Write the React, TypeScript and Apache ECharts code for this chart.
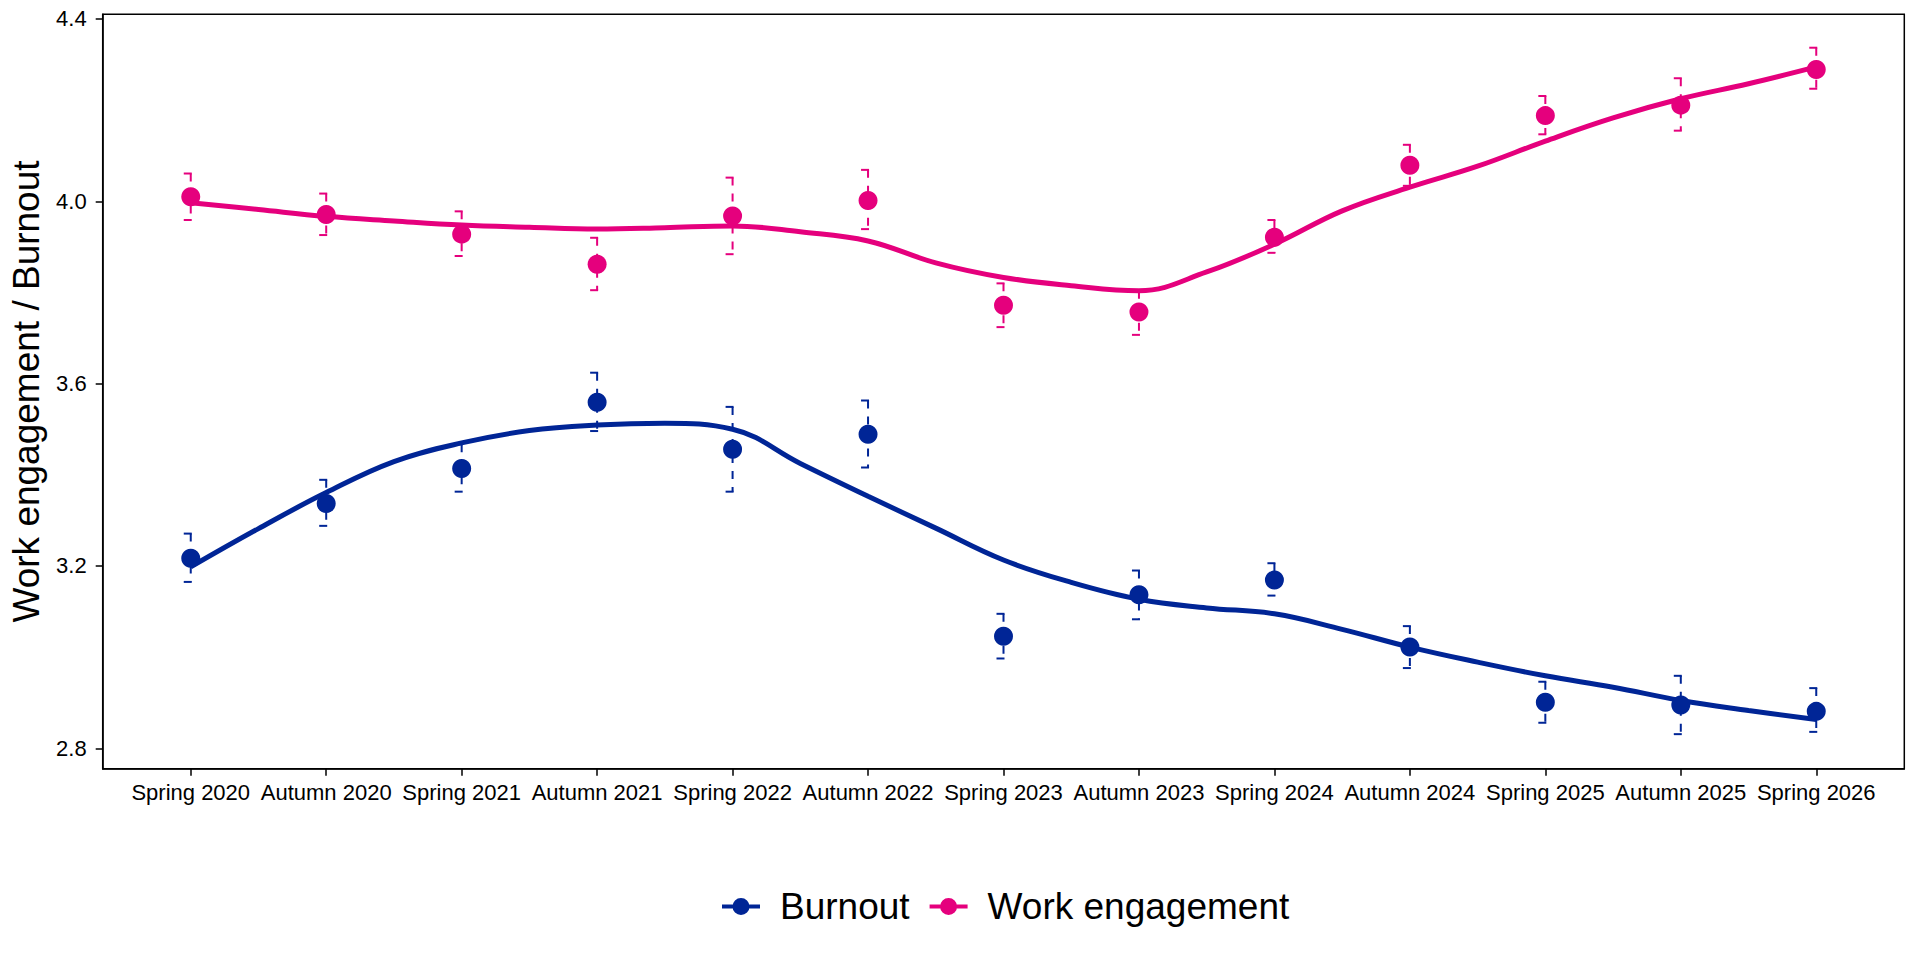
import React, { useEffect, useRef } from "react";
import * as echarts from "echarts";

const categories = [
  "Spring 2020", "Autumn 2020", "Spring 2021", "Autumn 2021", "Spring 2022",
  "Autumn 2022", "Spring 2023", "Autumn 2023", "Spring 2024", "Autumn 2024",
  "Spring 2025", "Autumn 2025", "Spring 2026",
];

const burnoutMean = [3.217, 3.337, 3.414, 3.559, 3.456, 3.489, 3.046, 3.137, 3.169, 3.022, 2.901, 2.895, 2.881];
const burnoutLow = [3.165, 3.288, 3.363, 3.496, 3.363, 3.416, 2.997, 3.083, 3.135, 2.976, 2.856, 2.831, 2.836];
const burnoutHigh = [3.271, 3.389, 3.467, 3.624, 3.549, 3.563, 3.095, 3.19, 3.206, 3.068, 2.946, 2.959, 2.932];

const engagementMean = [4.01, 3.971, 3.928, 3.862, 3.968, 4.002, 3.772, 3.757, 3.921, 4.079, 4.188, 4.211, 4.289];
const engagementLow = [3.959, 3.926, 3.88, 3.805, 3.884, 3.939, 3.724, 3.707, 3.887, 4.034, 4.147, 4.155, 4.247];
const engagementHigh = [4.061, 4.017, 3.978, 3.92, 4.052, 4.069, 3.82, 3.804, 3.959, 4.124, 4.231, 4.27, 4.337];

// smoothed (loess) curves at whole and half category positions
const fitPositions = [0, 0.5, 1, 1.5, 2, 2.5, 3, 3.5, 4, 4.5, 5, 5.5, 6, 6.5, 7, 7.5, 8, 8.5, 9, 9.5, 10, 10.5, 11, 11.5, 12];
const burnoutFit = [3.198, 3.282, 3.361, 3.429, 3.47, 3.497, 3.509, 3.513, 3.5, 3.425, 3.353, 3.283, 3.213, 3.164, 3.127, 3.108, 3.095, 3.061, 3.022, 2.989, 2.959, 2.934, 2.905, 2.883, 2.863];
const engagementFit = [3.997, 3.982, 3.967, 3.957, 3.948, 3.943, 3.939, 3.942, 3.946, 3.933, 3.913, 3.865, 3.833, 3.815, 3.804, 3.845, 3.906, 3.979, 4.031, 4.077, 4.132, 4.183, 4.225, 4.258, 4.295];

const yTicks = [2.8, 3.2, 3.6, 4.0, 4.4];
const xTicks = [0, 1, 2, 3, 4, 5, 6, 7, 8, 9, 10, 11, 12];

const BLUE = "#002596";
const PINK = "#E5007D";
const FONT = "'Liberation Sans', Arial, sans-serif";

const legendIcon =
  "path://M0,7H38V11H0Z M10.5,9A8.5,8.5 0 1,1 27.5,9A8.5,8.5 0 1,1 10.5,9Z";

function errorRenderer(color: string) {
  return (params: any, api: any) => {
    const x = api.value(0);
    const lo = api.coord([x, api.value(1)]);
    const hi = api.coord([x, api.value(2)]);
    const style = { stroke: color, lineWidth: 2, fill: null };
    return {
      type: "group",
      children: [
        { type: "line", shape: { x1: hi[0] - 7, y1: hi[1], x2: hi[0] + 1, y2: hi[1] }, style },
        { type: "line", shape: { x1: lo[0] - 7, y1: lo[1], x2: lo[0] + 1, y2: lo[1] }, style },
        {
          type: "line",
          shape: { x1: hi[0], y1: hi[1], x2: lo[0], y2: lo[1] },
          style: { ...style, lineDash: [8, 8] },
        },
      ],
    };
  };
}

export default function App() {
  const ref = useRef<HTMLDivElement>(null);

  useEffect(() => {
    if (!ref.current) return;
    const chart = echarts.init(ref.current, null, { renderer: "svg" });

    const option = {
      animation: false,
      backgroundColor: "#ffffff",
      grid: {
        left: 102.7,
        right: 15.7,
        top: 14.3,
        bottom: 191.3,
        show: true,
        borderColor: "#000",
        borderWidth: 1.5,
        backgroundColor: "transparent",
      },
      legend: {
        left: 722,
        top: 888,
        padding: 0,
        itemGap: 20,
        itemWidth: 38,
        itemHeight: 18,
        selectedMode: false,
        data: [
          { name: "Burnout", icon: legendIcon },
          { name: "Work engagement", icon: legendIcon },
        ],
        textStyle: {
          fontSize: 37,
          fontFamily: FONT,
          color: "#000",
          padding: [0, 0, 0, 15],
        },
      },
      xAxis: {
        type: "value",
        min: -0.65,
        max: 12.65,
        splitLine: { show: false },
        axisLine: { show: true, onZero: false, lineStyle: { color: "#000", width: 1.5 } },
        axisTick: { show: true, length: 7, customValues: xTicks, lineStyle: { color: "#000", width: 1.5 } },
        axisLabel: {
          customValues: xTicks,
          margin: 13,
          fontSize: 22,
          fontFamily: FONT,
          color: "#000",
          formatter: (v: number) => categories[Math.round(v)] ?? "",
        },
      },
      yAxis: {
        type: "value",
        min: 2.7552,
        max: 4.4103,
        name: "Work engagement / Burnout",
        nameLocation: "middle",
        nameGap: 56,
        nameTextStyle: { fontSize: 37, fontFamily: FONT, color: "#000" },
        splitLine: { show: false },
        axisLine: { show: true, onZero: false, lineStyle: { color: "#000", width: 1.5 } },
        axisTick: { show: true, length: 7, customValues: yTicks, lineStyle: { color: "#000", width: 1.5 } },
        axisLabel: {
          customValues: yTicks,
          margin: 16,
          fontSize: 22,
          fontFamily: FONT,
          color: "#000",
          formatter: (v: number) => v.toFixed(1),
        },
      },
      series: [
        {
          type: "custom",
          name: "Burnout interval",
          renderItem: errorRenderer(BLUE),
          data: categories.map((_, i) => [i, burnoutLow[i], burnoutHigh[i]]),
          encode: { x: 0, y: [1, 2] },
          z: 2,
          silent: true,
        },
        {
          type: "custom",
          name: "Work engagement interval",
          renderItem: errorRenderer(PINK),
          data: categories.map((_, i) => [i, engagementLow[i], engagementHigh[i]]),
          encode: { x: 0, y: [1, 2] },
          z: 2,
          silent: true,
        },
        {
          type: "line",
          name: "Burnout fit",
          data: fitPositions.map((p, i) => [p, burnoutFit[i]]),
          smooth: 0.4,
          showSymbol: false,
          symbol: "none",
          lineStyle: { color: BLUE, width: 5 },
          itemStyle: { color: BLUE },
          z: 3,
          silent: true,
        },
        {
          type: "line",
          name: "Work engagement fit",
          data: fitPositions.map((p, i) => [p, engagementFit[i]]),
          smooth: 0.4,
          showSymbol: false,
          symbol: "none",
          lineStyle: { color: PINK, width: 5 },
          itemStyle: { color: PINK },
          z: 3,
          silent: true,
        },
        {
          type: "scatter",
          name: "Burnout",
          data: categories.map((_, i) => [i, burnoutMean[i]]),
          symbol: "circle",
          symbolSize: 19,
          itemStyle: { color: BLUE, opacity: 1 },
          z: 4,
        },
        {
          type: "scatter",
          name: "Work engagement",
          data: categories.map((_, i) => [i, engagementMean[i]]),
          symbol: "circle",
          symbolSize: 19,
          itemStyle: { color: PINK, opacity: 1 },
          z: 4,
        },
      ],
    };

    chart.setOption(option as any);
    return () => chart.dispose();
  }, []);

  return (
    <div
      ref={ref}
      style={{ position: "absolute", left: 0, top: 0, width: 1920, height: 960, background: "#fff" }}
    />
  );
}
